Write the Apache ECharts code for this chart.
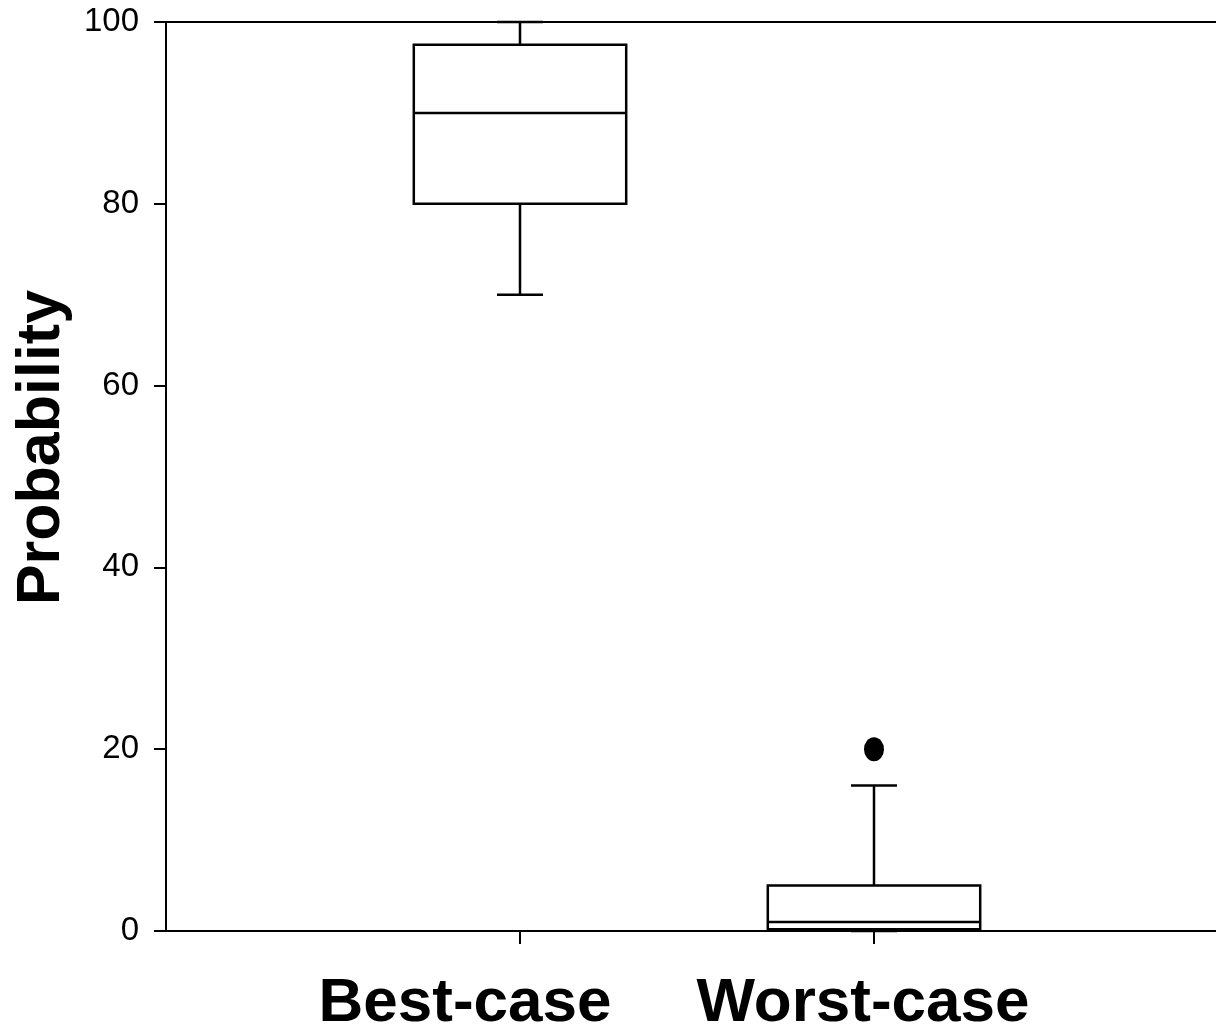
<!DOCTYPE html>
<html>
<head>
<meta charset="utf-8">
<title>Probability box plot</title>
<script src="https://cdn.jsdelivr.net/npm/echarts@6/dist/echarts.min.js"></script>
<style>
  html, body { margin: 0; padding: 0; background: #fff; }
  #chart { width: 1216px; height: 1031px; }
</style>
</head>
<body>
<div id="chart"></div>
<script>
// Box-plot summary for each scenario
const categories = ['Best-case', 'Worst-case'];
const whiskerLow = [70, 0];
const quartile1 = [80, 0.2];
const medians = [90, 1];
const quartile3 = [97.5, 5];
const whiskerHigh = [100, 16];
// Outliers as [category index, value]
const outliers = [[1, 20]];
const yTicks = [0, 20, 40, 60, 80, 100];

const BOX_WIDTH = 0.6;   // in x-axis units
const CAP_WIDTH = 0.13;

const boxData = categories.map((c, i) => [i + 1, whiskerLow[i], quartile1[i], medians[i], quartile3[i], whiskerHigh[i]]);
const outlierData = outliers.map(o => [o[0] + 1, o[1]]);

function renderBox(params, api) {
  const x = api.value(0);
  const pLow = api.coord([x, api.value(1)]);
  const pQ1 = api.coord([x, api.value(2)]);
  const pMed = api.coord([x, api.value(3)]);
  const pQ3 = api.coord([x, api.value(4)]);
  const pHigh = api.coord([x, api.value(5)]);
  const half = api.size([BOX_WIDTH, 0])[0] / 2;
  const capHalf = api.size([CAP_WIDTH, 0])[0] / 2;
  const cx = pMed[0];
  const stroke = { stroke: '#000', lineWidth: 2.5, fill: null };
  return {
    type: 'group',
    children: [
      { type: 'line', shape: { x1: cx, y1: pQ3[1], x2: cx, y2: pHigh[1] }, style: stroke },
      { type: 'line', shape: { x1: cx - capHalf, y1: pHigh[1], x2: cx + capHalf, y2: pHigh[1] }, style: stroke },
      { type: 'line', shape: { x1: cx, y1: pQ1[1], x2: cx, y2: pLow[1] }, style: stroke },
      { type: 'line', shape: { x1: cx - capHalf, y1: pLow[1], x2: cx + capHalf, y2: pLow[1] }, style: stroke },
      { type: 'rect', shape: { x: cx - half, y: pQ3[1], width: half * 2, height: pQ1[1] - pQ3[1] },
        style: { stroke: '#000', lineWidth: 2.5, fill: '#fff' } },
      { type: 'line', shape: { x1: cx - half, y1: pMed[1], x2: cx + half, y2: pMed[1] }, style: stroke }
    ]
  };
}

const chart = echarts.init(document.getElementById('chart'));
chart.setOption({
  animation: false,
  backgroundColor: '#fff',
  grid: {
    left: 166, right: -12, top: 22, bottom: 100,
    containLabel: false,
    outerBoundsMode: 'none',
    show: true, borderColor: '#000', borderWidth: 2, backgroundColor: 'transparent'
  },
  xAxis: {
    type: 'value', min: 0, max: 3, interval: 1,
    splitLine: { show: false },
    axisLine: { show: true, lineStyle: { color: '#000', width: 2 } },
    axisTick: { show: true, length: 13, customValues: [1, 2], lineStyle: { color: '#000', width: 2 } },
    axisLabel: {
      customValues: [1, 2],
      margin: 42,
      formatter: v => v === 1 ? '{a|' + categories[0] + '}' : '{b|' + categories[1] + '}',
      rich: {
        a: { fontFamily: 'Liberation Sans, Arial, sans-serif', fontWeight: 'bold', fontSize: 62, color: '#000', padding: [0, 110, 0, 0] },
        b: { fontFamily: 'Liberation Sans, Arial, sans-serif', fontWeight: 'bold', fontSize: 62, color: '#000', padding: [0, 22, 0, 0] }
      }
    }
  },
  yAxis: {
    type: 'value', min: 0, max: 100, interval: 20,
    name: 'Probability',
    nameLocation: 'middle',
    nameGap: 88,
    nameTextStyle: { fontFamily: 'Liberation Sans, Arial, sans-serif', fontWeight: 'bold', fontSize: 61, color: '#000', padding: [0, 0, 0, 58] },
    splitLine: { show: false },
    axisLine: { show: true, lineStyle: { color: '#000', width: 2 } },
    axisTick: { show: true, length: 12, lineStyle: { color: '#000', width: 2 } },
    axisLabel: {
      margin: 27,
      color: '#000',
      fontSize: 33,
      fontFamily: "'Liberation Sans', Arial, sans-serif",
      formatter: v => yTicks.includes(v) ? String(v) : ''
    }
  },
  series: [
    {
      type: 'custom',
      renderItem: renderBox,
      encode: { x: 0, y: [1, 2, 3, 4, 5] },
      data: boxData,
      clip: false
    },
    {
      type: 'scatter',
      symbol: 'circle',
      symbolSize: [20, 24],
      itemStyle: { color: '#000', opacity: 1 },
      data: outlierData
    }
  ]
});
</script>
</body>
</html>
